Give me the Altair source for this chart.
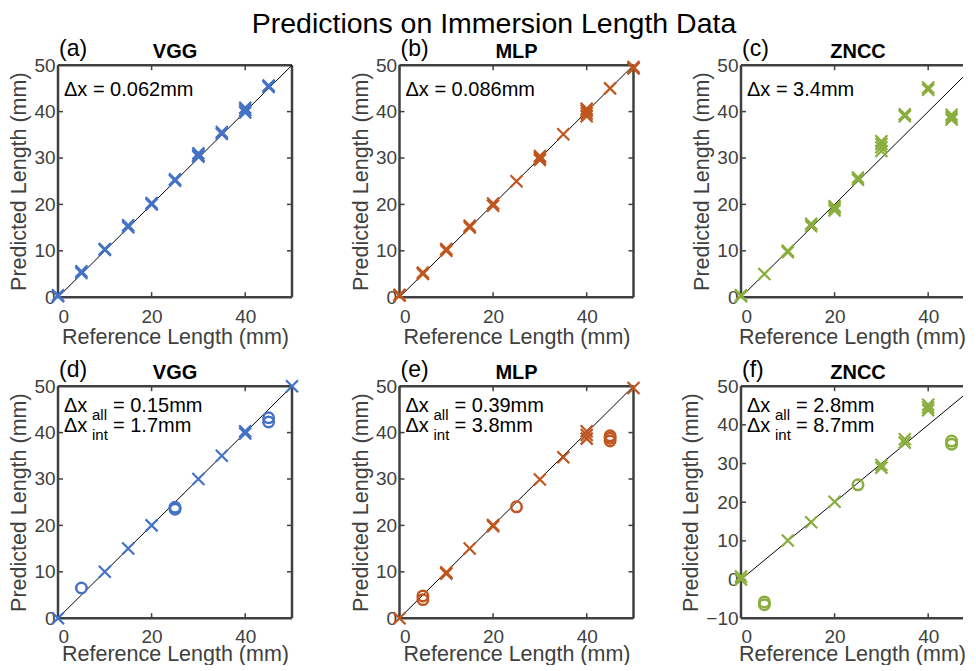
import altair as alt
import pandas as pd

FONT = "Liberation Sans"
TITLE = "Predictions on Immersion Length Data"
PANEL_TAGS = ["(a)", "(b)", "(c)", "(d)", "(e)", "(f)"]
MODELS = ["VGG", "MLP", "ZNCC"]
COLORS = ["#4472C4", "#C0561F", "#8AAE3E"]
X_LABEL = "Reference Length (mm)"
Y_LABEL = "Predicted Length (mm)"
X_TICKS = [0, 20, 40]
Y_TICKS_STD = [0, 10, 20, 30, 40, 50]
Y_TICKS_WIDE = [-10, 0, 10, 20, 30, 40, 50]

ROW1_ERR = ["0.062mm", "0.086mm", "3.4mm"]
ROW2_ERR_ALL = ["0.15mm", "0.39mm", "2.8mm"]
ROW2_ERR_INT = ["1.7mm", "3.8mm", "8.7mm"]

A_REF = [0, 0, 5, 5, 10, 10, 15, 15, 20, 20, 25, 25, 30, 30, 30, 35, 35, 40, 40, 40, 45, 45]
A_PRED = [0.2, 0.4, 5.2, 5.6, 10.2, 10.4, 15.1, 15.5, 20.0, 20.3, 25.1, 25.4, 30.3, 30.6, 31.0,
          35.2, 35.6, 39.8, 40.3, 40.8, 45.3, 45.6]
B_REF = [0, 0, 5, 5, 10, 10, 15, 15, 20, 20, 25, 30, 30, 30, 35, 40, 40, 40, 40, 45, 50, 50]
B_PRED = [0.3, 0.5, 5.0, 5.3, 10.0, 10.4, 15.0, 15.4, 19.7, 20.2, 25.0, 29.6, 30.0, 30.4, 35.1,
          39.0, 39.6, 40.2, 40.6, 45.0, 49.3, 49.6]
C_REF = [0, 0, 5, 10, 10, 15, 15, 20, 20, 20, 25, 25, 30, 30, 30, 30, 35, 35, 40, 40, 45, 45, 45, 50, 50]
C_PRED = [0.2, 0.4, 5.0, 9.7, 10.0, 15.3, 15.8, 18.7, 19.2, 19.6, 25.3, 25.8, 31.5, 32.3, 33.0, 33.6,
          39.0, 39.4, 44.7, 45.2, 38.3, 38.8, 39.3, 44.3, 44.8]

D_X_REF = [0, 10, 15, 20, 30, 35, 40, 40, 50]
D_X_PRED = [0.0, 10.0, 15.0, 20.0, 30.0, 35.0, 39.8, 40.3, 50.0]
D_O_REF = [5, 25, 25, 45, 45]
D_O_PRED = [6.5, 23.5, 23.9, 42.3, 43.2]
E_X_REF = [0, 10, 10, 15, 20, 20, 30, 35, 40, 40, 40, 50]
E_X_PRED = [0.0, 9.6, 9.9, 15.0, 19.8, 20.1, 29.9, 34.7, 38.7, 39.5, 40.3, 49.6]
E_O_REF = [5, 5, 25, 45, 45, 45]
E_O_PRED = [4.0, 4.8, 24.0, 38.2, 38.8, 39.3]
F_X_REF = [0, 0, 10, 15, 20, 30, 30, 35, 35, 40, 40, 40, 50, 50]
F_X_PRED = [0.0, 0.8, 10.1, 14.8, 20.1, 28.9, 29.6, 35.4, 36.3, 43.8, 44.5, 45.2, 44.0, 44.8]
F_O_REF = [5, 5, 25, 45, 45]
F_O_PRED = [-6.5, -5.8, 24.5, 35.0, 35.8]

W, H = 234, 232
W_CROP = 222            # third column is cut by the picture's right edge
GREY = "#404040"
X_SHAPE = "M-1,-1L1,1M-1,1L1,-1"
ONE = pd.DataFrame({"k": [0]})


def panel(tag, model, color, xr, xp, orf, op, yticks, ann, cropped=False, title=False, row2=False):
    wp = W_CROP if cropped else W
    xmax = 50.0 * wp / W
    ydom = [yticks[0], yticks[-1]]
    xs = alt.Scale(domain=[0, xmax], nice=False, zero=False)
    ys = alt.Scale(domain=ydom, nice=False, zero=False)
    xax = alt.Axis(values=X_TICKS, format="d", labelPadding=(9 if row2 else 10),
                   titlePadding=(-3 if row2 else 0))
    yax = alt.Axis(values=yticks, format="d")

    def X(f):
        return alt.X(f, scale=xs, axis=xax, title=X_LABEL)

    def Y(f):
        return alt.Y(f, scale=ys, axis=yax, title=Y_LABEL)

    layers = []
    fr = dict(color=GREY, strokeWidth=2.5)
    layers.append(alt.Chart(ONE).mark_rule(**fr).encode(
        x=alt.value(0), x2=alt.value(wp), y=alt.value(0)))
    layers.append(alt.Chart(ONE).mark_rule(**fr).encode(
        x=alt.value(0), x2=alt.value(wp), y=alt.value(H)))
    layers.append(alt.Chart(ONE).mark_rule(**fr).encode(
        x=alt.value(0), y=alt.value(0), y2=alt.value(H)))
    if not cropped:
        layers.append(alt.Chart(ONE).mark_rule(**fr).encode(
            x=alt.value(wp), y=alt.value(0), y2=alt.value(H)))

    xt = pd.DataFrame({"r": X_TICKS})
    yt = pd.DataFrame({"p": yticks})
    tk = dict(color=GREY, strokeWidth=1.5)
    layers.append(alt.Chart(xt).mark_rule(**tk).encode(
        x=X("r:Q"), y=alt.value(H), y2=alt.value(H - 5)))
    layers.append(alt.Chart(xt).mark_rule(**tk).encode(
        x=X("r:Q"), y=alt.value(0), y2=alt.value(5)))
    layers.append(alt.Chart(yt).mark_rule(**tk).encode(
        y=Y("p:Q"), x=alt.value(0), x2=alt.value(5)))
    if not cropped:
        layers.append(alt.Chart(yt).mark_rule(**tk).encode(
            y=Y("p:Q"), x=alt.value(wp - 5), x2=alt.value(wp)))

    diag = pd.DataFrame({"r": [0, 50], "p": [0, 50]})
    layers.append(alt.Chart(diag).mark_line(color="black", strokeWidth=1, clip=cropped).encode(
        x=X("r:Q"), y=Y("p:Q")))

    def pts(ref, pred, **mk):
        df = pd.DataFrame({"r": ref, "p": pred})
        base = alt.Chart(df)
        if not cropped:
            return [base.mark_point(**mk).encode(x=X("r:Q"), y=Y("p:Q"))]
        inner = base.transform_filter(alt.datum.r < 46).mark_point(**mk).encode(
            x=X("r:Q"), y=Y("p:Q"))
        edge = base.transform_filter(alt.datum.r >= 46).mark_point(clip=True, **mk).encode(
            x=X("r:Q"), y=Y("p:Q"))
        return [inner, edge]

    layers += pts(xr, xp, shape=X_SHAPE, filled=False, size=144, strokeWidth=2.2,
                  color=color, opacity=1)
    if orf:
        layers += pts(orf, op, shape="circle", filled=False, size=110, strokeWidth=2.5,
                      color=color, opacity=1)

    def txt(s, x, y, size, **kw):
        return alt.Chart(pd.DataFrame({"t": [s]})).mark_text(
            font=FONT, fontSize=size, baseline="alphabetic", **kw
        ).encode(x=alt.value(x), y=alt.value(y), text="t:N")

    layers.append(txt(tag, 1, -9, 23, align="left", color="black"))
    layers.append(txt(model, W / 2, -7, 20, align="center", fontWeight="bold", color="black"))
    if title:
        layers.append(txt(TITLE, 94.5, -32, 28.5, align="center", color="black"))

    if len(ann) == 1:
        layers.append(txt("\u0394x = " + ann[0], 6, 31, 20, align="left", color="black"))
    else:
        for i, (sub, val) in enumerate(ann):
            y0 = 26 + 20 * i
            layers.append(txt("\u0394x", 6, y0, 20, align="left", color="black"))
            layers.append(txt(sub, 34, y0 + 8, 15, align="left", color="black"))
            layers.append(txt("= " + val, 55, y0, 20, align="left", color="black"))

    return alt.layer(*layers).properties(width=wp, height=H)


panels = [
    panel(PANEL_TAGS[0], MODELS[0], COLORS[0], A_REF, A_PRED, [], [], Y_TICKS_STD, [ROW1_ERR[0]]),
    panel(PANEL_TAGS[1], MODELS[1], COLORS[1], B_REF, B_PRED, [], [], Y_TICKS_STD, [ROW1_ERR[1]],
          title=True),
    panel(PANEL_TAGS[2], MODELS[2], COLORS[2], C_REF, C_PRED, [], [], Y_TICKS_STD, [ROW1_ERR[2]],
          cropped=True),
    panel(PANEL_TAGS[3], MODELS[0], COLORS[0], D_X_REF, D_X_PRED, D_O_REF, D_O_PRED, Y_TICKS_STD,
          [("all", ROW2_ERR_ALL[0]), ("int", ROW2_ERR_INT[0])], row2=True),
    panel(PANEL_TAGS[4], MODELS[1], COLORS[1], E_X_REF, E_X_PRED, E_O_REF, E_O_PRED, Y_TICKS_STD,
          [("all", ROW2_ERR_ALL[1]), ("int", ROW2_ERR_INT[1])], row2=True),
    panel(PANEL_TAGS[5], MODELS[2], COLORS[2], F_X_REF, F_X_PRED, F_O_REF, F_O_PRED, Y_TICKS_WIDE,
          [("all", ROW2_ERR_ALL[2]), ("int", ROW2_ERR_INT[2])], cropped=True, row2=True),
]

chart = alt.concat(
    *panels, columns=3, spacing={"row": 89, "column": 107.5}, bounds="flush",
).properties(
    padding={"left": 0, "top": 1.2, "right": 0, "bottom": -0.5}
).configure_view(
    stroke="transparent"
).configure_axis(
    domain=False, ticks=False, tickSize=0, grid=False,
    labelFont=FONT, labelFontSize=19, labelColor=GREY,
    titleFont=FONT, titleFontSize=21.5, titleColor=GREY, titleFontWeight="normal",
).configure_axisY(
    labelPadding=3, titlePadding=3,
)

chart.save("out.html", embed_options={"renderer": "svg", "actions": False})
